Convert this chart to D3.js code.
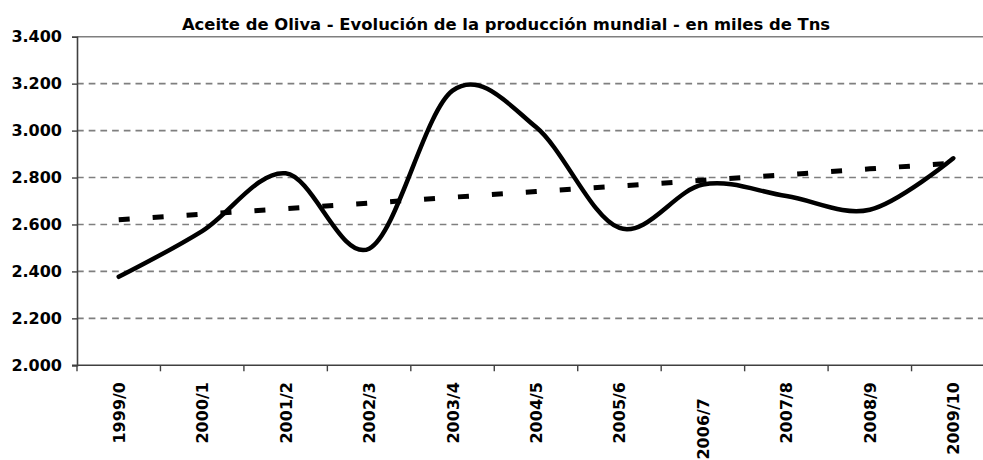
<!DOCTYPE html>
<html>
<head>
<meta charset="utf-8">
<script src="https://cdn.jsdelivr.net/npm/d3@7"></script>
<style>
  body { margin: 0; background: #fff; }
  svg { display: block; font-family: "DejaVu Sans", sans-serif; font-weight: bold; }
</style>
</head>
<body>
<div id="chart"></div>
<script>
// campañas
var campanas = ['1999/0', '2000/1', '2001/2', '2002/3', '2003/4', '2004/5',
    '2005/6', '2006/7', '2007/8', '2008/9', '2009/10'];
// produccion mundial, miles de Tns
var produccion = [2377, 2572, 2818, 2497, 3170, 3015, 2585, 2770, 2721, 2663, 2882];
// linea de tendencia (punteada)
var tendencia = [2620, 2644, 2667, 2691, 2716, 2740, 2764, 2788, 2812, 2837, 2861];
var yTicks = [2000, 2200, 2400, 2600, 2800, 3000, 3200, 3400];
var titulo = 'Aceite de Oliva - Evolución de la producción mundial - en miles de Tns';

var width = 983, height = 460;
// ojo: "top" es de window, usar otro nombre
var plotLeft = 77, plotRight = 995, plotTop = 36.7, plotBottom = 365.3;

var svg = d3.select('#chart').append('svg')
    .attr('width', width)
    .attr('height', height);

var x = d3.scaleBand()
    .domain(campanas)
    .range([plotLeft, plotRight]);

var y = d3.scaleLinear()
    .domain([2000, 3400])
    .range([plotBottom, plotTop]);

var es = d3.formatLocale({decimal: ',', thousands: '.', grouping: [3], currency: ['', '']});
var fmt = es.format(',d');

// titulo
svg.append('text')
    .attr('x', 506)
    .attr('y', 30)
    .attr('text-anchor', 'middle')
    .attr('font-size', '16.4px')
    .attr('fill', '#000')
    .text(titulo);

// lineas de division
svg.append('g')
    .selectAll('line')
    .data(yTicks.slice(1))
    .enter()
    .append('line')
    .attr('x1', plotLeft)
    .attr('x2', width)
    .attr('y1', function (d) { return y(d); })
    .attr('y2', function (d) { return y(d); })
    .style('stroke', '#7f7f7f')
    .style('stroke-width', 1.6)
    .style('stroke-dasharray', function (d) { return d == 3400 ? null : '6.7,5'; });

// eje y
var yAxis = svg.append('g')
    .attr('transform', 'translate(' + plotLeft + ',0)')
    .call(d3.axisLeft(y).tickValues(yTicks).tickSize(5).tickPadding(10).tickFormat(fmt));
yAxis.select('.domain').attr('stroke', '#404040').attr('stroke-width', 1.6);
yAxis.selectAll('.tick line').attr('stroke', '#404040').attr('stroke-width', 1.4);
yAxis.selectAll('.tick text')
    .attr('font-size', '16px')
    .attr('font-family', '"DejaVu Sans", sans-serif')
    .attr('font-weight', 'bold')
    .attr('fill', '#000');

// eje x
var xg = svg.append('g');
xg.append('line')
    .attr('x1', plotLeft - 5)
    .attr('x2', width)
    .attr('y1', plotBottom)
    .attr('y2', plotBottom)
    .style('stroke', '#404040')
    .style('stroke-width', 1.6);

xg.selectAll('line.tick')
    .data(campanas)
    .enter()
    .append('line')
    .attr('class', 'tick')
    .attr('x1', function (d) { return x(d); })
    .attr('x2', function (d) { return x(d); })
    .attr('y1', plotBottom)
    .attr('y2', plotBottom + 6)
    .style('stroke', '#404040')
    .style('stroke-width', 1.4);

xg.selectAll('text')
    .data(campanas)
    .enter()
    .append('text')
    .attr('transform', function (d) {
        var cx = x(d) + x.bandwidth() / 2 + 6;
        var ty = d == '2006/7' ? 398 : 382; // esta etiqueta sale mas abajo en el original
        return 'translate(' + cx + ',' + ty + ') rotate(-90)';
    })
    .attr('text-anchor', 'end')
    .attr('font-size', '16px')
    .attr('fill', '#000')
    .text(function (d) { return d; });

// serie principal (suavizada)
var linea = d3.line()
    .x(function (d, i) { return x(campanas[i]) + x.bandwidth() / 2; })
    .y(function (d) { return y(d); })
    .curve(d3.curveCardinal.tension(0));

svg.append('path')
    .datum(produccion)
    .attr('d', linea)
    .style('fill', 'none')
    .style('stroke', '#000')
    .style('stroke-width', 4.5)
    .style('stroke-linejoin', 'round')
    .style('stroke-linecap', 'round');

// tendencia
var lineaT = d3.line()
    .x(function (d, i) { return x(campanas[i]) + x.bandwidth() / 2; })
    .y(function (d) { return y(d); });

svg.append('path')
    .datum(tendencia)
    .attr('d', lineaT)
    .style('fill', 'none')
    .style('stroke', '#000')
    .style('stroke-width', 5)
    .style('stroke-dasharray', '11,23');
</script>
</body>
</html>
